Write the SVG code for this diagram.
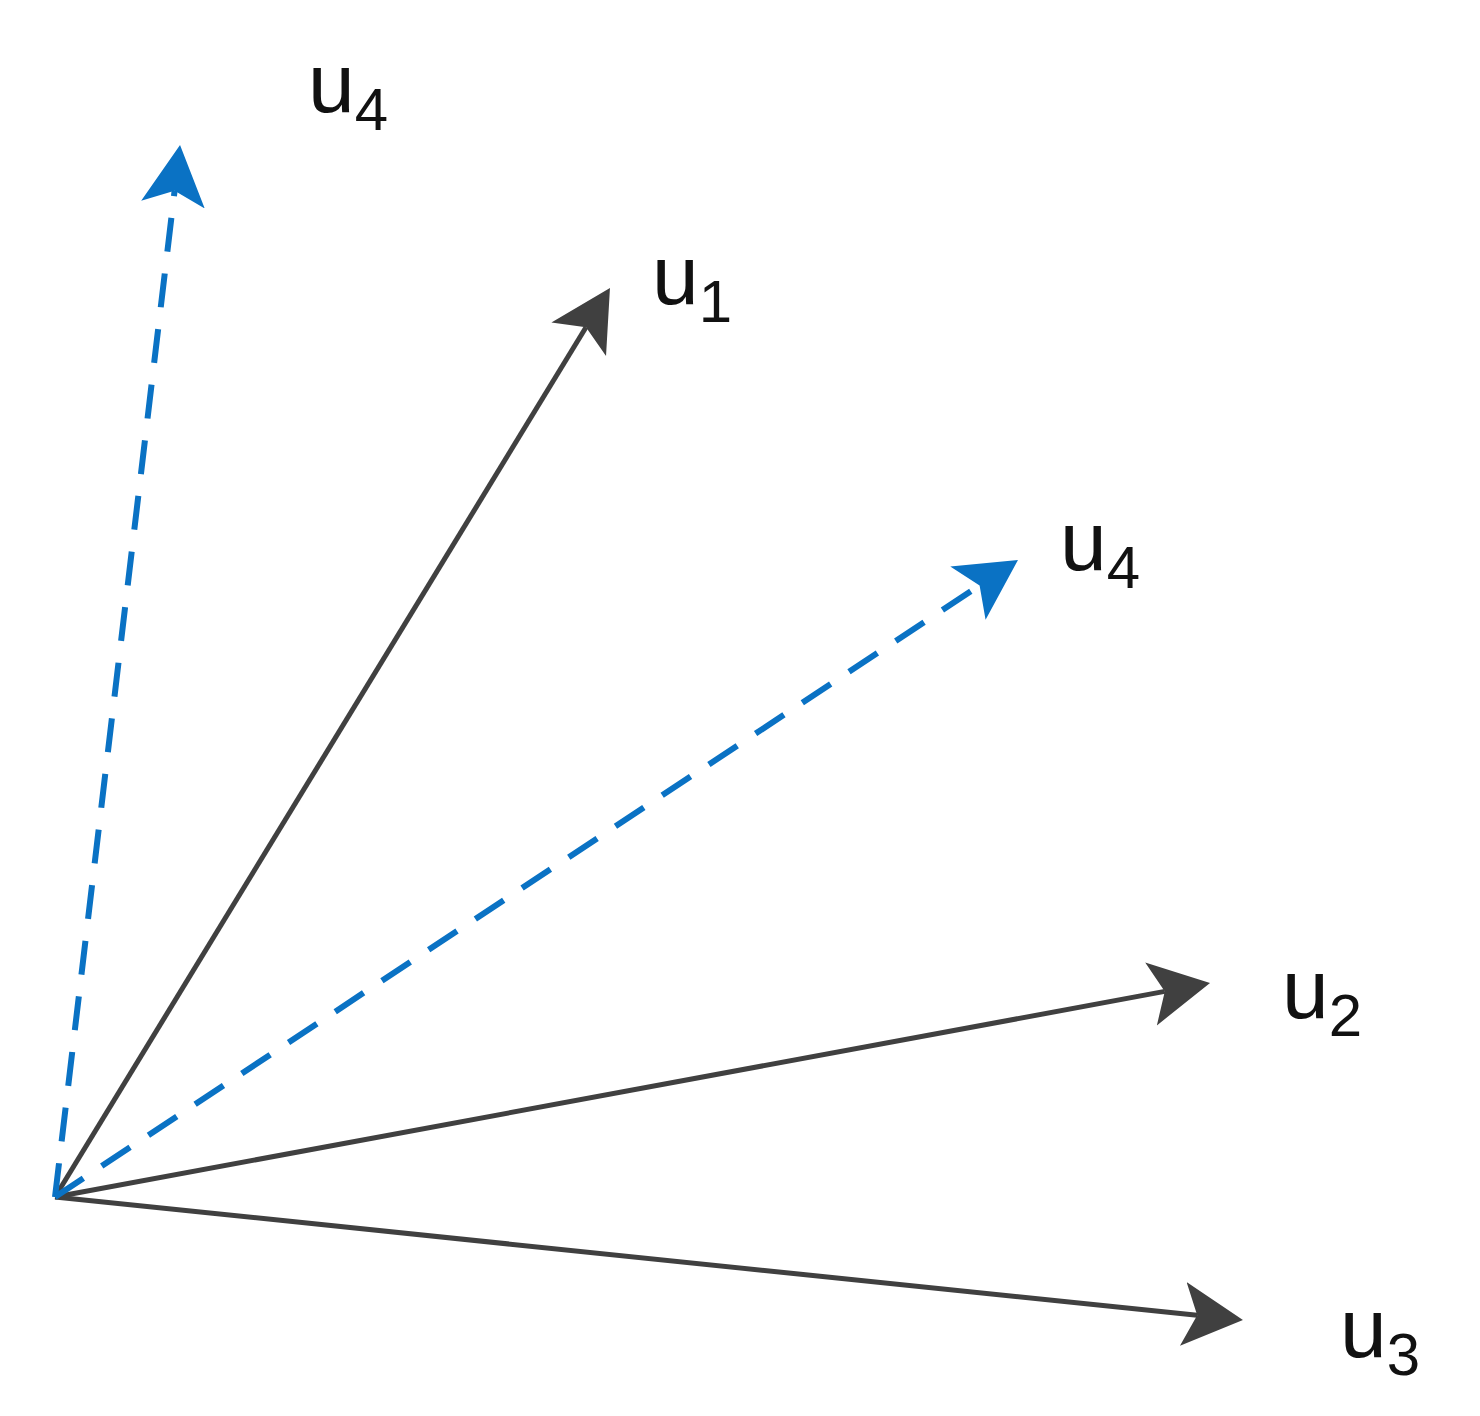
<svg xmlns="http://www.w3.org/2000/svg" width="1480" height="1416" viewBox="0 0 1480 1416">
<style>
.k{stroke:#404040;stroke-width:5;fill:none}
.b{stroke:#0a72c4;stroke-width:6;fill:none;stroke-dasharray:34 22}
text{font-family:"Liberation Sans",Arial,sans-serif;font-size:84px;fill:#111}
.s{font-size:60px}
</style>
<defs>
<marker id="mk" markerUnits="userSpaceOnUse" markerWidth="70" markerHeight="70" refX="14" refY="32" orient="auto"><path d="M0,0 L60,32 L0,64 L14,32 z" fill="#404040"/></marker>
<marker id="mb" markerUnits="userSpaceOnUse" markerWidth="70" markerHeight="70" refX="14" refY="32" orient="auto"><path d="M0,0 L60,32 L0,64 L14,32 z" fill="#0a72c4"/></marker>
</defs>
<rect width="1480" height="1416" fill="#fff"/>
<g id="connectors">
<line class="k" x1="55" y1="1197" x2="586" y2="327.3" marker-end="url(#mk)"/>
<line class="k" x1="55" y1="1197" x2="1164.8" y2="991.4" marker-end="url(#mk)"/>
<line class="k" x1="55" y1="1197" x2="1197.2" y2="1315.3" marker-end="url(#mk)"/>
<line class="b" x1="55" y1="1197" x2="174.6" y2="190.7" marker-end="url(#mb)"/>
<line class="b" x1="55" y1="1197" x2="979.6" y2="585.4" marker-end="url(#mb)"/>
</g>
<g id="label-u4-top"><text x="308" y="112">u<tspan class="s" dy="18">4</tspan></text></g>
<g id="label-u1"><text x="652" y="304">u<tspan class="s" dy="18">1</tspan></text></g>
<g id="label-u4-mid"><text x="1060" y="570">u<tspan class="s" dy="18">4</tspan></text></g>
<g id="label-u2"><text x="1282" y="1018">u<tspan class="s" dy="18">2</tspan></text></g>
<g id="label-u3"><text x="1340" y="1357">u<tspan class="s" dy="18">3</tspan></text></g>
</svg>
